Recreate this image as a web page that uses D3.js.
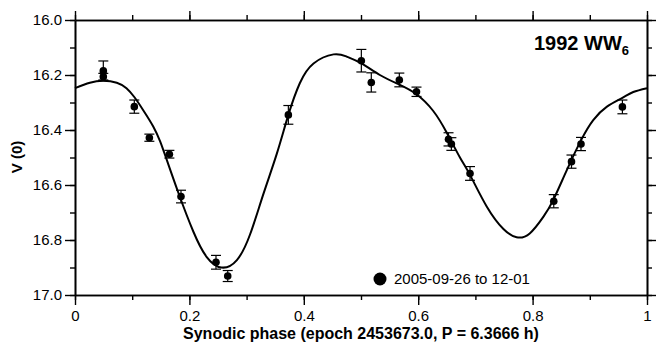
<!DOCTYPE html>
<html>
<head>
<meta charset="utf-8">
<script src="https://cdn.jsdelivr.net/npm/d3@7"></script>
<style>
  body { margin: 0; background: #fff; }
  svg { display: block; font-family: "Liberation Sans", Arial, Helvetica, sans-serif; }
</style>
</head>
<body>
<div id="chart"></div>
<script>
// observations: synodic phase, V(0) magnitude, error
const obsPhase = [0.0495, 0.0495, 0.1037, 0.130, 0.165, 0.1853, 0.2465, 0.267, 0.373, 0.5006, 0.518, 0.567, 0.597, 0.653, 0.658, 0.6906, 0.837, 0.868, 0.8846, 0.957];
const obsMag   = [16.185, 16.206, 16.315, 16.428, 16.488, 16.642, 16.881, 16.931, 16.345, 16.148, 16.227, 16.218, 16.261, 16.434, 16.451, 16.558, 16.659, 16.515, 16.451, 16.316];
const obsErr   = [0.036, 0.012, 0.024, 0.013, 0.014, 0.023, 0.025, 0.020, 0.034, 0.041, 0.035, 0.025, 0.017, 0.024, 0.023, 0.025, 0.024, 0.024, 0.024, 0.025];

// fitted lightcurve
const fitPhase = [0.000, 0.026, 0.0495, 0.073, 0.090, 0.104, 0.119, 0.137, 0.149, 0.159, 0.181, 0.207, 0.230, 0.256, 0.283, 0.306, 0.329, 0.353, 0.373, 0.393, 0.417, 0.452, 0.475, 0.501, 0.533, 0.567, 0.597, 0.626, 0.650, 0.673, 0.691, 0.720, 0.749, 0.772, 0.795, 0.819, 0.836, 0.860, 0.885, 0.906, 0.930, 0.957, 0.976, 1.000];
const fitMag   = [16.248, 16.228, 16.221, 16.228, 16.248, 16.281, 16.327, 16.388, 16.442, 16.500, 16.630, 16.770, 16.861, 16.900, 16.873, 16.780, 16.635, 16.485, 16.345, 16.230, 16.158, 16.125, 16.133, 16.158, 16.200, 16.235, 16.270, 16.330, 16.410, 16.500, 16.565, 16.679, 16.760, 16.790, 16.776, 16.715, 16.655, 16.545, 16.436, 16.364, 16.315, 16.283, 16.262, 16.248];

const xTicks = [0, 0.2, 0.4, 0.6, 0.8, 1];
const yTicks = [16.0, 16.2, 16.4, 16.6, 16.8, 17.0];
const minorX = d3.range(0, 1.0001, 0.1);
const minorY = d3.range(16.0, 17.0001, 0.1);

const W = 656, H = 345;
const mLeft = 75, mRight = 647, mTop = 20, mBottom = 295;

const svg = d3.select("#chart").append("svg")
  .attr("width", W).attr("height", H);

const x = d3.scaleLinear().domain([0, 1]).range([mLeft, mRight]);
const y = d3.scaleLinear().domain([16.0, 17.0]).range([mTop, mBottom]);

function drawAxis(axis, transform, ticks, size, fmt) {
  const g = svg.append("g")
    .attr("transform", transform)
    .call(axis.tickValues(ticks).tickSize(size).tickSizeOuter(0)
      .tickFormat(fmt || (() => "")));
  g.select(".domain").attr("stroke-width", 1.6);
  g.selectAll(".tick line").attr("stroke-width", 1.4);
  g.selectAll("text").attr("font-size", 15).attr("fill", "#000")
    .style("font-family", "'Liberation Sans', Arial, sans-serif");
  return g;
}

// minor ticks
drawAxis(d3.axisBottom(x), `translate(0,${mBottom})`, minorX, 5, null);
drawAxis(d3.axisTop(x), `translate(0,${mTop})`, minorX, 5, null);
drawAxis(d3.axisLeft(y), `translate(${mLeft},0)`, minorY, 5, null);
drawAxis(d3.axisRight(y), `translate(${mRight},0)`, minorY, 5, null);

// major ticks
const gx = drawAxis(d3.axisBottom(x), `translate(0,${mBottom})`, xTicks, 10, d => String(d));
gx.selectAll("text").attr("y", 15).attr("dy", "0.71em");
drawAxis(d3.axisTop(x), `translate(0,${mTop})`, xTicks, 9, null);
const gy = drawAxis(d3.axisLeft(y), `translate(${mLeft},0)`, yTicks, 10, d3.format(".1f"));
gy.selectAll("text").attr("x", -13);
drawAxis(d3.axisRight(y), `translate(${mRight},0)`, yTicks, 9, null);

// fitted curve
const line = d3.line()
  .x((d, i) => x(fitPhase[i]))
  .y(d => y(d))
  .curve(d3.curveNatural);

svg.append("path")
  .datum(fitMag)
  .attr("d", line)
  .attr("fill", "none")
  .attr("stroke", "#000")
  .attr("stroke-width", 2);

// error bars and points
const pts = svg.append("g").selectAll("g")
  .data(obsPhase.map((p, i) => ({ p, m: obsMag[i], e: obsErr[i] })))
  .join("g");

pts.append("line")
  .attr("x1", d => x(d.p)).attr("x2", d => x(d.p))
  .attr("y1", d => y(d.m - d.e)).attr("y2", d => y(d.m + d.e))
  .attr("stroke", "#000").attr("stroke-width", 1.2);
pts.append("line")
  .attr("x1", d => x(d.p) - 5).attr("x2", d => x(d.p) + 5)
  .attr("y1", d => y(d.m - d.e)).attr("y2", d => y(d.m - d.e))
  .attr("stroke", "#000").attr("stroke-width", 1.2);
pts.append("line")
  .attr("x1", d => x(d.p) - 5).attr("x2", d => x(d.p) + 5)
  .attr("y1", d => y(d.m + d.e)).attr("y2", d => y(d.m + d.e))
  .attr("stroke", "#000").attr("stroke-width", 1.2);
pts.append("circle")
  .attr("cx", d => x(d.p)).attr("cy", d => y(d.m))
  .attr("r", 3.8).attr("fill", "#000");

// title
const title = svg.append("text")
  .attr("x", 534).attr("y", 50)
  .attr("font-size", 20).attr("font-weight", "bold");
title.append("tspan").text("1992 WW");
title.append("tspan").attr("font-size", 13).attr("dy", 5).text("6");

// legend
svg.append("circle").attr("cx", 380).attr("cy", 279).attr("r", 6.5).attr("fill", "#000");
svg.append("text").attr("x", 394).attr("y", 284).attr("font-size", 15)
  .text("2005-09-26 to 12-01");

// axis titles
svg.append("text")
  .attr("x", 361).attr("y", 339)
  .attr("text-anchor", "middle")
  .attr("font-size", 16).attr("font-weight", "bold")
  .text("Synodic phase (epoch 2453673.0, P = 6.3666 h)");

svg.append("text")
  .attr("transform", "translate(22,157) rotate(-90)")
  .attr("text-anchor", "middle")
  .attr("font-size", 15).attr("font-weight", "bold")
  .text("V (0)");
</script>
</body>
</html>
